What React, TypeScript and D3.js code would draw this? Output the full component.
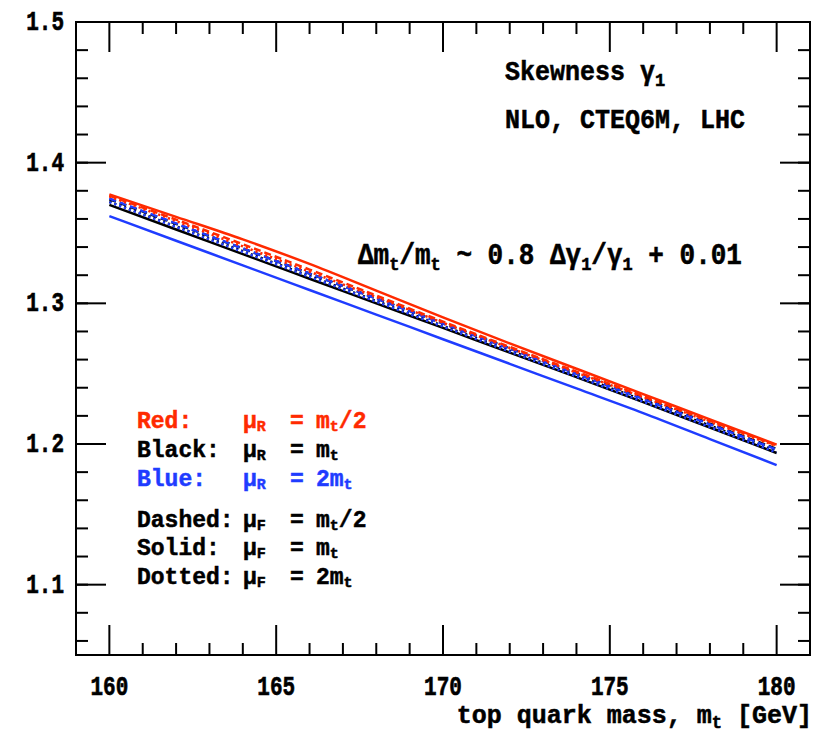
import React from "react";
import * as d3 from "d3";

// Top-quark mass grid (GeV)
const masses = [160, 162, 164, 166, 168, 170, 172, 174, 176, 178, 180];

// Skewness gamma_1 for each (mu_R, mu_F) choice
const redSolid = [1.3775, 1.3615, 1.3455, 1.328, 1.309, 1.29, 1.2715, 1.2535, 1.2355, 1.2175, 1.1995];
const redDashed = [1.3765, 1.3595, 1.342, 1.324, 1.3055, 1.287, 1.269, 1.2515, 1.234, 1.2165, 1.199];
const redDotted = [1.376, 1.3585, 1.3405, 1.3225, 1.3045, 1.2862, 1.2683, 1.2508, 1.2333, 1.2158, 1.1985];
const blackSolid = [1.37, 1.3525, 1.335, 1.3175, 1.3, 1.2825, 1.265, 1.2475, 1.2298, 1.2117, 1.1936];
const blackDashed = [1.374, 1.3565, 1.339, 1.3212, 1.3035, 1.2858, 1.268, 1.2502, 1.2325, 1.2145, 1.1965];
const blackDotted = [1.3722, 1.3547, 1.3371, 1.3194, 1.3017, 1.284, 1.2664, 1.2488, 1.2311, 1.2131, 1.195];
const blueSolid = [1.362, 1.3445, 1.327, 1.3095, 1.292, 1.2745, 1.257, 1.2395, 1.222, 1.2035, 1.185];
const blueDashed = [1.3745, 1.3568, 1.339, 1.3212, 1.3034, 1.2856, 1.2678, 1.2499, 1.232, 1.214, 1.196];
const blueDotted = [1.372, 1.3543, 1.3366, 1.3189, 1.3012, 1.2835, 1.2657, 1.248, 1.2301, 1.2121, 1.194];

const xTicks = [160, 165, 170, 175, 180];
const yTicks = [1.1, 1.2, 1.3, 1.4, 1.5];

const RED = "#ff2a00";
const BLUE = "#1f3cff";
const BLACK = "#000000";
const FONT = "'Liberation Mono', 'Courier New', monospace";

const W = 820;
const H = 738;
const M = { left: 76, right: 810, top: 22, bottom: 655 };

const x = d3.scaleLinear().domain([159, 181]).range([M.left, M.right]);
const y = d3.scaleLinear().domain([1.05, 1.5]).range([M.bottom, M.top]);

const DASH = "7,4";
const DOT = "2.2,3";

const curves = [
  { values: blueSolid, color: BLUE, dash: null },
  { values: blackSolid, color: BLACK, dash: null },
  { values: blackDotted, color: BLACK, dash: DOT },
  { values: blueDotted, color: BLUE, dash: DOT },
  { values: blackDashed, color: BLACK, dash: DASH },
  { values: blueDashed, color: BLUE, dash: DASH },
  { values: redDotted, color: RED, dash: DOT },
  { values: redDashed, color: RED, dash: DASH },
  { values: redSolid, color: RED, dash: null },
];

const line = d3
  .line<number>()
  .x((_, i) => x(masses[i]))
  .y((v) => y(v))
  .curve(d3.curveMonotoneX);

function Sub({ children, size = 17, shift = 5 }: { children: React.ReactNode; size?: number; shift?: number }) {
  return (
    <tspan fontSize={size} dy={shift}>
      {children}
    </tspan>
  );
}

function Back({ children, shift = 5 }: { children: React.ReactNode; shift?: number }) {
  return <tspan dy={-shift}>{children}</tspan>;
}

// text placed at (tx, ty) and stretched vertically a little
function T({
  tx,
  ty,
  sy = 1.12,
  anchor,
  size,
  children,
}: {
  tx: number;
  ty: number;
  sy?: number;
  anchor?: string;
  size?: number;
  children: React.ReactNode;
}) {
  return (
    <text transform={`translate(${tx},${ty}) scale(1,${sy})`} textAnchor={anchor} fontSize={size}>
      {children}
    </text>
  );
}

export default function App() {
  const xMinor = d3.range(159, 181.01, 1);
  const yMinor = d3.range(1.06, 1.5, 0.02);
  const legendRows = [
    { label: "Red:", sym: "R", val: "half", color: RED, yb: 428 },
    { label: "Black:", sym: "R", val: "one", color: BLACK, yb: 457 },
    { label: "Blue:", sym: "R", val: "two", color: BLUE, yb: 486 },
    { label: "Dashed:", sym: "F", val: "half", color: BLACK, yb: 527 },
    { label: "Solid:", sym: "F", val: "one", color: BLACK, yb: 555 },
    { label: "Dotted:", sym: "F", val: "two", color: BLACK, yb: 584 },
  ];
  const LS = 3; // legend subscript drop
  const LSZ = 15;

  return (
    <svg width={W} height={H} style={{ display: "block", position: "absolute", left: 0, top: 0 }}>
      <rect width={W} height={H} fill="#fff" />

      {/* curves */}
      <g fill="none" strokeWidth={2.5}>
        {curves.map((c, i) => (
          <path
            key={i}
            d={line(c.values) || ""}
            stroke={c.color}
            strokeDasharray={c.dash || undefined}
          />
        ))}
      </g>

      {/* frame and ticks */}
      <g stroke="#000" strokeWidth={2} fill="none">
        <rect x={M.left} y={M.top} width={M.right - M.left} height={M.bottom - M.top} />
        {xMinor.map((v, i) => {
          const major = xTicks.includes(Math.round(v)) && Math.abs(v - Math.round(v)) < 1e-6;
          const len = major ? 30 : 12;
          const px = x(v);
          return (
            <g key={"x" + i}>
              <line x1={px} x2={px} y1={M.bottom} y2={M.bottom - len} />
              <line x1={px} x2={px} y1={M.top} y2={M.top + len} />
            </g>
          );
        })}
        {yMinor.map((v, i) => {
          const px = y(v);
          return (
            <g key={"ym" + i}>
              <line x1={M.left} x2={M.left + 12} y1={px} y2={px} />
              <line x1={M.right} x2={M.right - 12} y1={px} y2={px} />
            </g>
          );
        })}
        {yTicks.map((v) => (
          <g key={"y" + v}>
            <line x1={M.left} x2={M.left + 30} y1={y(v)} y2={y(v)} />
            <line x1={M.right} x2={M.right - 30} y1={y(v)} y2={y(v)} />
          </g>
        ))}
      </g>

      <g fontFamily={FONT} fontWeight="bold" fontSize={25} fill="#000">
        <g stroke="#000" strokeWidth={0.5}>
          {/* tick labels */}
          {yTicks.map((v) => (
            <T key={"yl" + v} tx={64} ty={y(v) + 8} sy={1.3} anchor="end" size={21}>
              {v.toFixed(1)}
            </T>
          ))}
          {xTicks.map((v) => (
            <T key={"xl" + v} tx={x(v)} ty={695} sy={1.3} anchor="middle" size={21}>
              {v}
            </T>
          ))}

          {/* axis title */}
          <T tx={812} ty={723} sy={1.05} anchor="end">
            top quark mass, m<Sub>t</Sub>
            <Back>{"  [GeV]"}</Back>
          </T>

          {/* header */}
          <T tx={505} ty={80}>
            Skewness γ<Sub>1</Sub>
          </T>
          <T tx={505} ty={128}>
            NLO, CTEQ6M, LHC
          </T>

          {/* mass calibration */}
          <T tx={358} ty={264} size={26}>
            Δm<Sub>t</Sub>
            <Back>/m</Back>
            <Sub>t</Sub>
            <Back> ~ 0.8 Δγ</Back>
            <Sub>1</Sub>
            <Back>/γ</Back>
            <Sub>1</Sub>
            <Back> + 0.01</Back>
          </T>
        </g>

        {/* scale-choice legend */}
        {legendRows.map((r) => (
          <g key={r.label} fill={r.color} stroke={r.color} strokeWidth={0.5} fontSize={23}>
            <T tx={137} ty={r.yb} sy={1.0}>{r.label}</T>
            <T tx={243} ty={r.yb} sy={1.0}>
              μ<Sub size={LSZ} shift={LS}>{r.sym}</Sub>
            </T>
            <T tx={290} ty={r.yb} sy={1.0}>=</T>
            <T tx={316} ty={r.yb} sy={1.0}>
              {r.val === "half" && (
                <>
                  m<Sub size={LSZ} shift={LS}>t</Sub>
                  <Back shift={LS}>/2</Back>
                </>
              )}
              {r.val === "one" && (
                <>
                  m<Sub size={LSZ} shift={LS}>t</Sub>
                </>
              )}
              {r.val === "two" && (
                <>
                  2m<Sub size={LSZ} shift={LS}>t</Sub>
                </>
              )}
            </T>
          </g>
        ))}
      </g>
    </svg>
  );
}
